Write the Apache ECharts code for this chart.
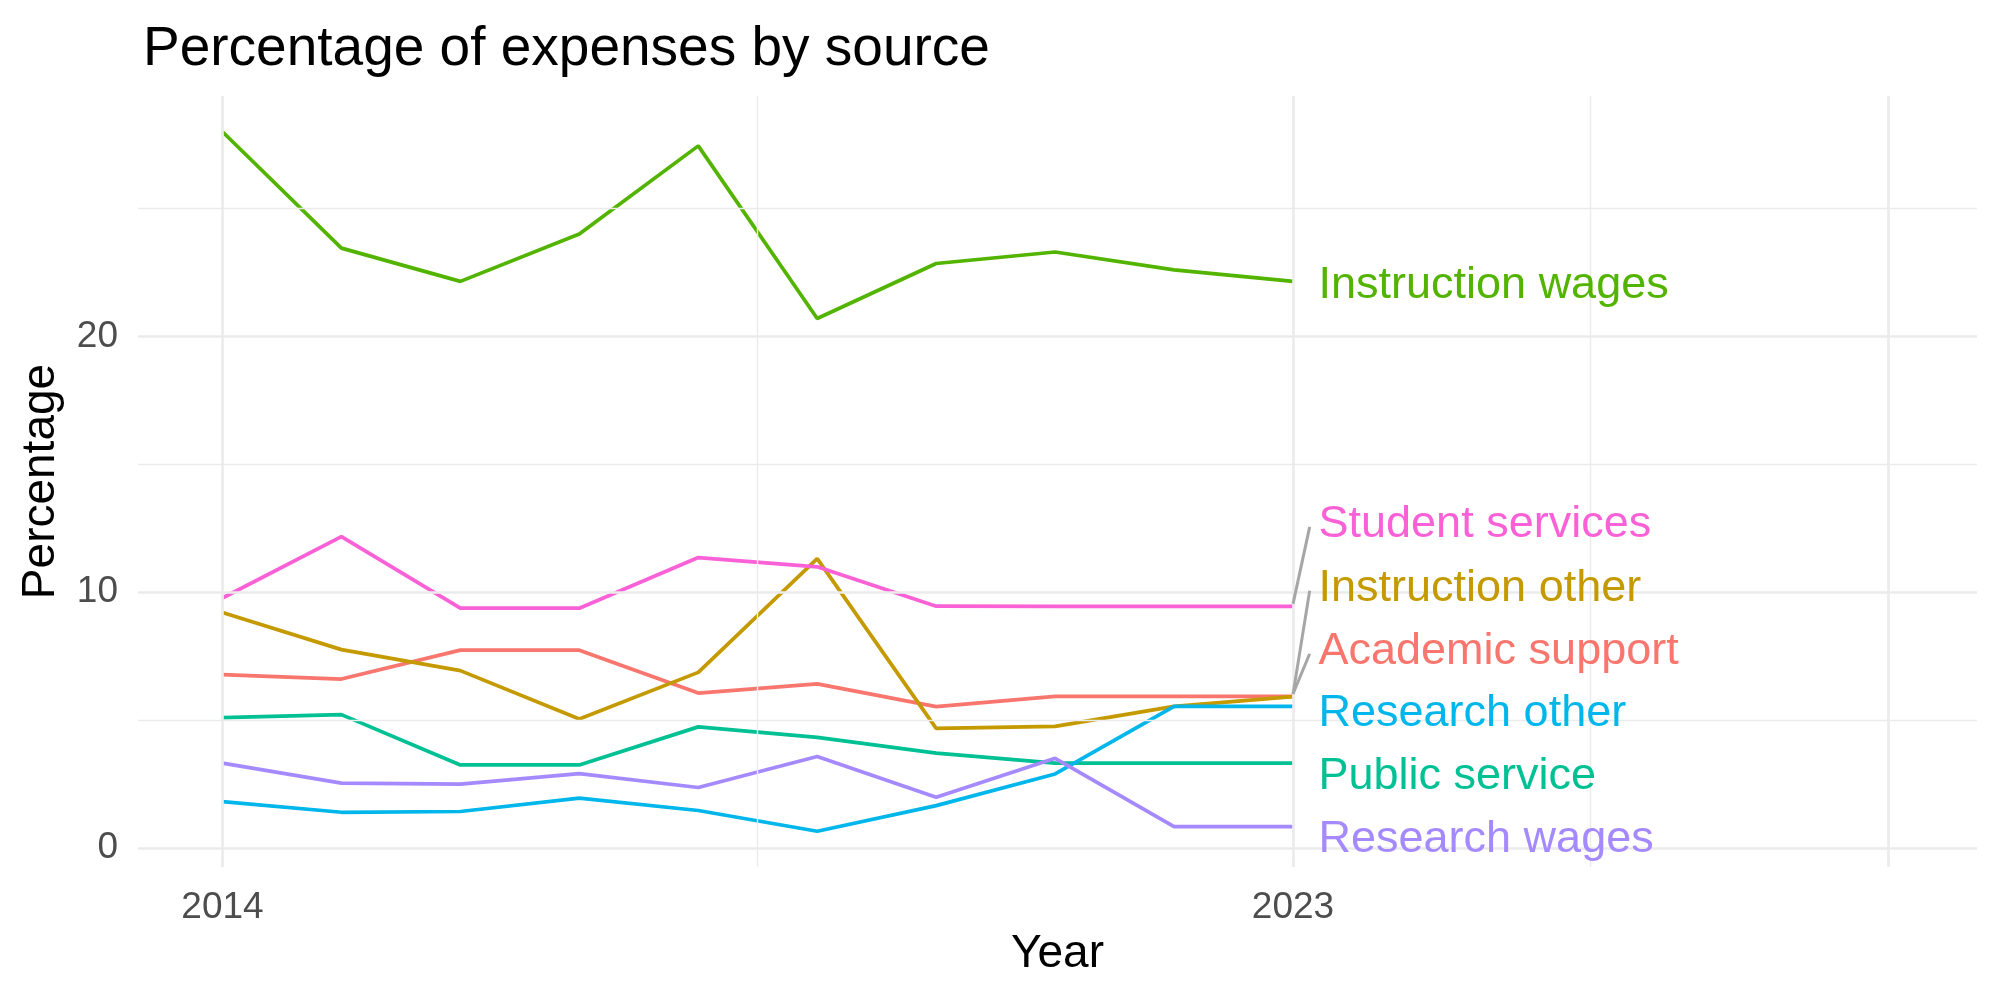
<!DOCTYPE html>
<html>
<head>
<meta charset="utf-8">
<title>Percentage of expenses by source</title>
<script src="https://cdn.jsdelivr.net/npm/echarts@6/dist/echarts.min.js"></script>
<style>
  html, body { margin: 0; padding: 0; background: #ffffff; }
  #chart { width: 2000px; height: 1000px; }
</style>
</head>
<body>
<div id="chart"></div>
<script>
// Data (percent of expenses per year)
const years = [2014, 2015, 2016, 2017, 2018, 2019, 2020, 2021, 2022, 2023];
const academicSupport  = [6.77, 6.60, 7.73, 7.73, 6.05, 6.41, 5.52, 5.92, 5.92, 5.92];
const instructionOther = [9.20, 7.75, 6.93, 5.04, 6.86, 11.31, 4.67, 4.75, 5.53, 5.91];
const instructionWages = [28.0, 23.45, 22.15, 24.0, 27.45, 20.7, 22.85, 23.3, 22.6, 22.15];
const publicService    = [5.09, 5.21, 3.24, 3.24, 4.73, 4.32, 3.70, 3.31, 3.31, 3.31];
const researchOther    = [1.81, 1.39, 1.42, 1.94, 1.46, 0.65, 1.65, 2.89, 5.53, 5.53];
const researchWages    = [3.31, 2.53, 2.49, 2.90, 2.36, 3.57, 1.98, 3.50, 0.83, 0.83];
const studentServices  = [9.77, 12.17, 9.37, 9.37, 11.35, 10.99, 9.45, 9.44, 9.44, 9.44];

const groupNames = ['Academic support', 'Instruction other', 'Instruction wages',
  'Public service', 'Research other', 'Research wages', 'Student services'];
const groupValues = [academicSupport, instructionOther, instructionWages,
  publicService, researchOther, researchWages, studentServices];

// Tick labels
const xTickLabels = [2014, 2023];
const yTickLabels = [0, 10, 20];

// Layout: gridline positions, label placement (repelled like ggrepel)
const xMajor = [2014, 2023, 2028];
const xMinor = [2018.5, 2025.5];
const yMajor = [0, 10, 20];
const yMinor = [5, 15, 25];
const labelY = [7.84, 10.3, 22.15, 2.95, 5.39, 0.48, 12.8];
const colors = ['#F8766D', '#C49A00', '#53B400', '#00C094', '#00B6EB', '#A58AFF', '#FB61D7'];

const font = '"Liberation Sans", Arial, Helvetica, sans-serif';
const gridColor = '#EBEBEB';

const chart = echarts.init(document.getElementById('chart'), null, { renderer: 'canvas' });

// Background gridlines drawn as mark lines so they can sit at irregular breaks
const gridLines = []
  .concat(xMajor.map(v => ({ xAxis: v, lineStyle: { width: 2.7 } })))
  .concat(xMinor.map(v => ({ xAxis: v, lineStyle: { width: 1.4 } })))
  .concat(yMajor.map(v => ({ yAxis: v, lineStyle: { width: 2.7 } })))
  .concat(yMinor.map(v => ({ yAxis: v, lineStyle: { width: 1.4 } })));

const series = [{
  name: 'grid',
  type: 'line',
  data: [],
  z: 1,
  silent: true,
  markLine: {
    silent: true,
    symbol: ['none', 'none'],
    label: { show: false },
    lineStyle: { color: gridColor, type: 'solid' },
    emphasis: { disabled: true },
    animation: false,
    data: gridLines
  }
}];

groupNames.forEach((name, i) => {
  const vals = groupValues[i];
  const last = vals[vals.length - 1];
  const lastYear = years[years.length - 1];
  const leader = [];
  if (Math.abs(labelY[i] - last) > 1) {
    leader.push([
      { coord: [lastYear, last + 0.1] },
      { coord: [lastYear + 0.14, labelY[i] - 0.25] }
    ]);
  }
  series.push({
    name: name,
    type: 'line',
    z: 2,
    data: years.map((y, j) => [y, vals[j]]),
    showSymbol: false,
    symbol: 'none',
    lineStyle: { color: colors[i], width: 3.7 },
    itemStyle: { color: colors[i] },
    emphasis: { disabled: true },
    animation: false,
    markPoint: {
      symbol: 'circle',
      symbolSize: 1,
      itemStyle: { color: 'rgba(0,0,0,0)' },
      animation: false,
      data: [{
        coord: [lastYear, labelY[i]],
        label: {
          show: true,
          position: 'right',
          distance: 25,
          offset: [0, 4],
          formatter: name,
          color: colors[i],
          fontSize: 45,
          fontFamily: font
        }
      }]
    },
    markLine: {
      silent: true,
      symbol: ['none', 'none'],
      label: { show: false },
      lineStyle: { color: '#A6A6A6', width: 3, type: 'solid' },
      animation: false,
      data: leader
    }
  });
});

const option = {
  backgroundColor: '#ffffff',
  animation: false,
  title: {
    text: 'Percentage of expenses by source',
    left: 138,
    top: 17,
    textStyle: { color: '#000000', fontSize: 55, fontWeight: 'normal', fontFamily: font }
  },
  grid: { left: 138, right: 23, top: 96, bottom: 133 },
  xAxis: {
    type: 'value',
    min: 2013.29,
    max: 2028.75,
    name: 'Year',
    nameLocation: 'middle',
    nameGap: 63,
    nameTextStyle: { color: '#000000', fontSize: 46, fontFamily: font },
    axisLine: { show: false },
    axisTick: { show: false },
    splitLine: { show: false },
    axisLabel: {
      customValues: xTickLabels,
      formatter: v => String(v),
      color: '#4D4D4D',
      fontSize: 37,
      fontFamily: font,
      margin: 22
    }
  },
  yAxis: {
    type: 'value',
    min: -0.75,
    max: 29.4,
    name: 'Percentage',
    nameLocation: 'middle',
    nameGap: 74,
    nameRotate: 90,
    nameTextStyle: { color: '#000000', fontSize: 46, fontFamily: font },
    axisLine: { show: false },
    axisTick: { show: false },
    splitLine: { show: false },
    axisLabel: {
      customValues: yTickLabels,
      color: '#4D4D4D',
      fontSize: 37,
      fontFamily: font,
      margin: 20
    }
  },
  series: series
};

chart.setOption(option);
</script>
</body>
</html>
